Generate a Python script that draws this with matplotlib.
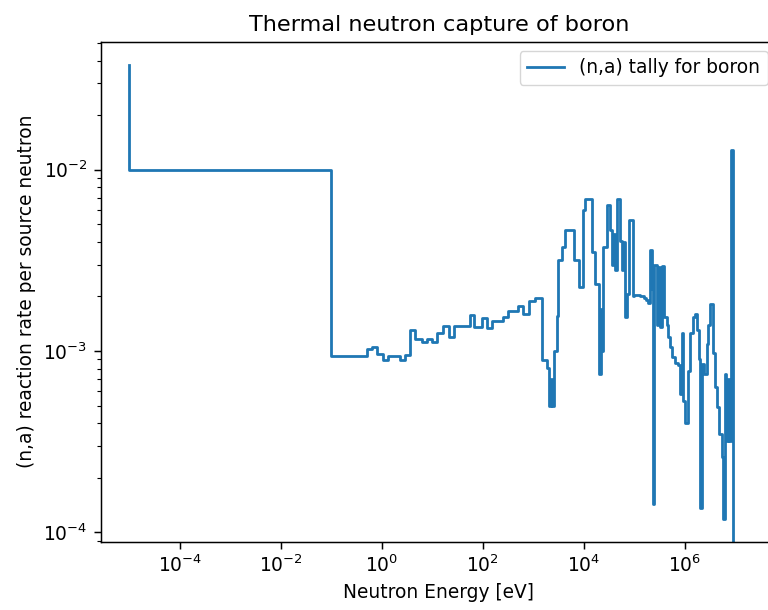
import matplotlib
matplotlib.use("Agg")
import matplotlib.pyplot as plt

# Energy points (eV) for a "steps-pre" plot and the tally value of each bin
energy = [1e-5, 0.1, 0.5, 0.64, 0.815, 1.04, 1.35, 2.29, 2.88, 3.61, 4.54,
          6.17, 7.74, 9.73, 12.6, 16.5, 21.7, 26.9, 55.8, 67.0, 95.1,
          119, 150, 255, 320, 505, 634, 834, 1081, 1466, 1841,
          2075, 2241, 2399, 2570, 2904, 3126, 3648, 4244, 6486, 8147,
          9772, 10570, 14330, 16670, 20280, 21430, 22910, 24550, 28380, 33040,
          35650, 38370, 41500, 44770, 52120, 56230, 60530, 65460, 72610, 79620,
          92910, 98620, 108100, 118300, 129700, 141900, 155600, 170600, 186600, 209400,
          223900, 237700, 251200, 281700, 301400, 322800, 349100, 396300, 434500, 475600,
          521200, 570400, 639700, 732800, 822200, 868500, 933300, 1.009e6, 1.183e6, 1.297e6,
          1.452e6, 1.592e6, 1.745e6, 1.910e6, 2.046e6, 2.192e6, 2.399e6, 2.692e6, 2.946e6, 3.155e6,
          3.667e6, 3.963e6, 4.285e6, 4.755e6, 5.383e6, 5.834e6, 6.252e6, 6.699e6, 7.161e6, 7.674e6,
          8.222e6, 8.995e6, 2.0e7]

rate = [0.038, 1.0e-2, 9.35e-4, 1.02e-3, 1.05e-3, 9.66e-4, 8.98e-4, 9.35e-4, 8.98e-4, 9.57e-4, 1.30e-3,
        1.17e-3, 1.12e-3, 1.17e-3, 1.12e-3, 1.25e-3, 1.38e-3, 1.19e-3, 1.38e-3, 1.58e-3, 1.35e-3,
        1.53e-3, 1.34e-3, 1.47e-3, 1.55e-3, 1.66e-3, 1.78e-3, 1.60e-3, 1.88e-3, 1.97e-3, 8.9e-4,
        8.1e-4, 5.0e-4, 7.0e-4, 5.0e-4, 1.0e-3, 1.57e-3, 3.16e-3, 3.74e-3, 4.64e-3, 3.16e-3,
        2.25e-3, 5.97e-3, 6.93e-3, 3.52e-3, 2.35e-3, 7.5e-4, 1.7e-3, 1.0e-3, 3.74e-3, 6.37e-3,
        4.63e-3, 3.0e-3, 4.4e-3, 2.79e-3, 6.93e-3, 4.07e-3, 2.8e-3, 4.0e-3, 1.54e-3, 2.07e-3,
        5.3e-3, 2.02e-3, 2.05e-3, 2.03e-3, 2.05e-3, 2.00e-3, 2.02e-3, 1.96e-3, 1.92e-3, 1.85e-3,
        3.62e-3, 2.2e-3, 1.43e-4, 3.0e-3, 1.4e-3, 2.9e-3, 1.35e-3, 2.95e-3, 1.54e-3, 1.40e-3,
        1.20e-3, 1.05e-3, 9.3e-4, 8.6e-4, 8.4e-4, 5.8e-4, 1.25e-3, 5.3e-4, 4.0e-4, 7.8e-4,
        1.25e-3, 1.55e-3, 1.6e-3, 1.3e-3, 9.0e-4, 1.37e-4, 8.5e-4, 7.5e-4, 1.1e-3, 1.4e-3,
        1.82e-3, 9.7e-4, 6.3e-4, 4.9e-4, 3.5e-4, 2.6e-4, 1.18e-4, 7.5e-4, 3.2e-4, 7.0e-4,
        3.2e-4, 1.28e-2, 0.0]

title = "Thermal neutron capture of boron"
xlabel = "Neutron Energy [eV]"
ylabel = "(n,a) reaction rate per source neutron"
legend_label = "(n,a) tally for boron"

k = 1.34
plt.rcParams.update({
    "font.family": ["DejaVu Sans"],
    "font.size": 10 * k,
    "axes.linewidth": 0.8 * k,
    "xtick.major.size": 3.5 * k, "ytick.major.size": 3.5 * k,
    "xtick.minor.size": 2.0 * k, "ytick.minor.size": 2.0 * k,
    "xtick.major.width": 0.8 * k, "ytick.major.width": 0.8 * k,
    "xtick.minor.width": 0.6 * k, "ytick.minor.width": 0.6 * k,
    "xtick.major.pad": 3.5 * k, "ytick.major.pad": 3.5 * k,
    "axes.titlepad": 6.0 * k,
    "axes.labelpad": 4.0 * k,
    "lines.linewidth": 1.5 * k,
    "legend.fontsize": 10 * k,
})

fig = plt.figure(figsize=(7.68, 6.10), dpi=100)
ax = fig.add_axes([100.5 / 768, (610 - 541.5) / 610, (777 - 100.5) / 768, (541.5 - 41.7) / 610])
ax.step(energy, rate, where="pre", color="#1f77b4", label=legend_label)
ax.set_xscale("log")
ax.set_yscale("log")
ax.set_xlim(2.69e-6, 6.7e7)
ax.set_ylim(8.91e-5, 0.0508)
ax.set_title(title, fontsize=12 * k)
ax.set_xlabel(xlabel)
ax.set_ylabel(ylabel)
ax.legend(loc="upper right")
fig.savefig("out.png", dpi=100)
